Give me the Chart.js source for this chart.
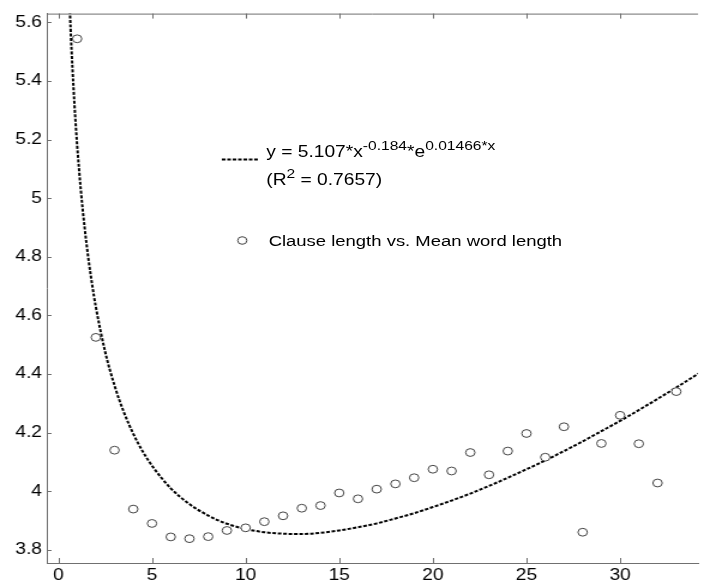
<!DOCTYPE html>
<html>
<head>
<meta charset="utf-8">
<script src="https://cdn.jsdelivr.net/npm/chart.js@4"></script>
<style>
  html, body { margin: 0; padding: 0; background: #fff; overflow: hidden; }
  /* the source picture is stretched ~1.2x horizontally, so the whole plot is too */
  #wrap { position: absolute; left: 0; top: 0; width: 587px; height: 588px; transform: scaleX(1.1993); transform-origin: 0 0; }
  .leg { position: absolute; font: 16px "Liberation Sans", Arial, sans-serif; line-height: 16px; color: #000; white-space: nowrap; }
  .leg sup { font-size: 13px; vertical-align: 0; position: relative; top: -7px; }
</style>
</head>
<body>
<div id="wrap">
  <canvas id="chart" width="587" height="588"></canvas>
  <div class="leg" style="left:222px;top:144px">y = 5.107*x<sup>-0.184</sup>*e<sup>0.01466*x</sup></div>
  <div class="leg" style="left:222px;top:172px">(R<sup>2</sup> = 0.7657)</div>
  <div class="leg" style="left:224px;top:233px;font-size:15.4px">Clause length vs. Mean word length</div>
</div>
<script>
// donnees
const clauseLength = [1, 2, 3, 4, 5, 6, 7, 8, 9, 10, 11, 12, 13, 14, 15, 16, 17,
  18, 19, 20, 21, 22, 23, 24, 25, 26, 27, 28, 29, 30, 31, 32, 33];
const meanWordLength = [5.544, 4.525, 4.14, 3.939, 3.89, 3.844, 3.838, 3.845, 3.866, 3.875,
  3.896, 3.916, 3.942, 3.951, 3.994, 3.974, 4.007, 4.025, 4.046, 4.075, 4.069,
  4.132, 4.056, 4.137, 4.197, 4.116, 4.22, 3.86, 4.163, 4.259, 4.162, 4.028, 4.34];

// courbe ajustee (pointillés), relevee le long du trace
const fitX = [0.55, 0.6, 0.65, 0.7, 0.75, 0.8, 0.9, 1, 1.2, 1.4, 1.6, 1.8, 2, 2.5, 3, 3.5, 4, 4.5,
  5, 6, 7, 8, 9, 10, 11, 12, 13, 14, 15, 16, 17, 18, 19, 20, 21, 22, 23, 24, 25, 26, 27,
  28, 29, 30, 31, 32, 33, 34, 34.5];
const fitY = [5.747, 5.660, 5.581, 5.509, 5.444, 5.384, 5.276, 5.182, 5.026, 4.900, 4.795, 4.706,
  4.629, 4.475, 4.360, 4.269, 4.196, 4.136, 4.087, 4.010, 3.956, 3.917, 3.889, 3.871, 3.860,
  3.855, 3.854, 3.858, 3.866, 3.877, 3.890, 3.907, 3.925, 3.946, 3.968, 3.992, 4.018, 4.046,
  4.075, 4.105, 4.137, 4.170, 4.205, 4.240, 4.277, 4.315, 4.354, 4.394, 4.414];

const xTicks = [0, 5, 10, 15, 20, 25, 30];
const yTicks = [3.8, 4, 4.2, 4.4, 4.6, 4.8, 5, 5.2, 5.4, 5.6];

const axisColor = '#707070';
const font = { family: '"Liberation Sans", Arial, sans-serif', size: 16 };

// ticks vers l'interieur, cadre du haut, symboles de la legende
const framePlugin = {
  id: 'frame',
  afterDraw(chart) {
    const { ctx, chartArea: a, scales: { x, y } } = chart;
    ctx.save();
    ctx.strokeStyle = axisColor;
    ctx.lineWidth = 1;
    ctx.beginPath();
    ctx.moveTo(a.left, a.top + 0.5);
    ctx.lineTo(a.right, a.top + 0.5);
    xTicks.forEach(v => {
      const px = Math.round(x.getPixelForValue(v)) + 0.5;
      ctx.moveTo(px, a.bottom); ctx.lineTo(px, a.bottom - 5);
      ctx.moveTo(px, a.top); ctx.lineTo(px, a.top + 5);
    });
    yTicks.forEach(v => {
      const py = Math.round(y.getPixelForValue(v)) + 0.5;
      ctx.moveTo(a.left, py); ctx.lineTo(a.left + 4, py);
    });
    ctx.stroke();

    // legende : trait pointillé
    ctx.strokeStyle = '#000';
    ctx.lineWidth = 2;
    ctx.setLineDash([3, 1.5]);
    ctx.beginPath();
    ctx.moveTo(185, 159.5);
    ctx.lineTo(215, 159.5);
    ctx.stroke();
    // legende : cercle
    ctx.setLineDash([]);
    ctx.lineWidth = 1;
    ctx.strokeStyle = '#444';
    ctx.beginPath();
    ctx.arc(202, 240.5, 3.8, 0, Math.PI * 2);
    ctx.stroke();
    ctx.restore();
  }
};

new Chart(document.getElementById('chart'), {
  type: 'scatter',
  data: {
    datasets: [
      {
        label: 'Clause length vs. Mean word length',
        data: clauseLength.map((x, i) => ({ x, y: meanWordLength[i] })),
        pointStyle: 'circle',
        pointRadius: 3.9,
        borderWidth: 1,
        borderColor: '#444',
        backgroundColor: '#fff',
        order: 0
      },
      {
        label: 'fit',
        data: fitX.map((x, i) => ({ x, y: fitY[i] })),
        showLine: true,
        pointRadius: 0,
        borderColor: '#000',
        borderWidth: 2,
        borderDash: [3, 1.5],
        cubicInterpolationMode: 'monotone',
        order: 1
      }
    ]
  },
  options: {
    responsive: false,
    animation: false,
    layout: { padding: { top: 9, right: 0, left: 0, bottom: 0 } },
    plugins: {
      legend: { display: false },
      tooltip: { enabled: false }
    },
    scales: {
      x: {
        type: 'linear',
        min: -0.62,
        max: 34.16,
        afterBuildTicks: s => { s.ticks = xTicks.map(v => ({ value: v })); },
        afterFit: s => { s.height = 25; },
        grid: { display: false, drawTicks: false },
        border: { color: axisColor, width: 1 },
        ticks: { font, color: '#000', padding: 3, maxRotation: 0 }
      },
      y: {
        min: 3.755,
        max: 5.63,
        afterBuildTicks: s => { s.ticks = yTicks.map(v => ({ value: v })); },
        afterFit: s => { s.width = 39; },
        grid: { display: false, drawTicks: false },
        border: { color: axisColor, width: 1 },
        ticks: { font, color: '#000', padding: 4, callback: v => String(+v.toFixed(1)) }
      }
    }
  },
  plugins: [framePlugin]
});
</script>
</body>
</html>
